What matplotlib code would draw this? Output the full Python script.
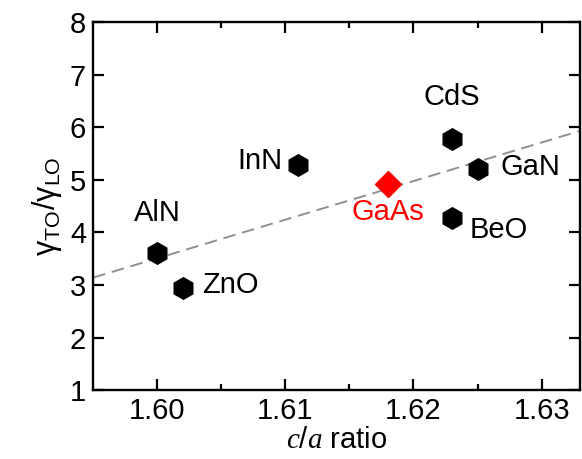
import matplotlib
matplotlib.use("Agg")
import matplotlib.pyplot as plt
import numpy as np

plt.rcParams['font.family'] = ['Liberation Sans', 'DejaVu Sans']
plt.rcParams['mathtext.fontset'] = 'custom'
plt.rcParams['mathtext.rm'] = 'Liberation Sans'
plt.rcParams['mathtext.it'] = 'Liberation Serif:italic'

materials = ["AlN", "ZnO", "InN", "CdS", "BeO", "GaN"]
ca_ratio = [1.600, 1.602, 1.611, 1.623, 1.623, 1.625]
gamma_ratio = [3.60, 2.95, 5.29, 5.78, 4.28, 5.20]

gaas_ca = 1.618
gaas_gamma = 4.92

fit_x = [1.595, 1.633]
fit_y = [3.14, 5.93]

label_pos = {
    "AlN": (1.600, 4.37, 'center'),
    "ZnO": (1.6035, 3.00, 'left'),
    "InN": (1.6098, 5.36, 'right'),
    "CdS": (1.623, 6.57, 'center'),
    "BeO": (1.6244, 4.05, 'left'),
    "GaN": (1.6268, 5.25, 'left'),
}

fig = plt.figure(figsize=(5.82, 4.59), dpi=100)
ax = fig.add_axes([0.160, 0.150, 0.8366, 0.802])

ax.plot(fit_x, fit_y, ls=(0, (6.5, 3.5)), color='#909090', lw=1.4, zorder=1)
ax.plot(ca_ratio, gamma_ratio, 'h', color='black', ms=15.5, zorder=3)
ax.plot([gaas_ca], [gaas_gamma], 'D', color='red', ms=13.5, zorder=3)

for name in materials:
    x, y, ha = label_pos[name]
    ax.text(x, y, name, ha=ha, va='center', fontsize=21, color='black')
ax.text(gaas_ca, 4.39, "GaAs", ha='center', va='center', fontsize=21, color='red')

ax.set_xlim(1.595, 1.633)
ax.set_ylim(1, 8)
ax.set_xticks([1.60, 1.61, 1.62, 1.63])
ax.set_xticklabels(["1.60", "1.61", "1.62", "1.63"])
ax.set_xticks([1.605, 1.615, 1.625], minor=True)
ax.set_yticks([1, 2, 3, 4, 5, 6, 7, 8])

ax.tick_params(which='both', direction='in', top=True, right=True, width=1.6, labelsize=21)
ax.tick_params(which='major', length=8, pad=5)
ax.tick_params(which='minor', length=4)
for s in ax.spines.values():
    s.set_linewidth(1.7)

ax.set_xlabel(r'$c/a$ ratio', fontsize=21, labelpad=1)
ax.set_ylabel(r'$\mathrm{\gamma_{TO}/\gamma_{LO}}$', fontsize=22, labelpad=4)

fig.savefig("out.png", dpi=100)
